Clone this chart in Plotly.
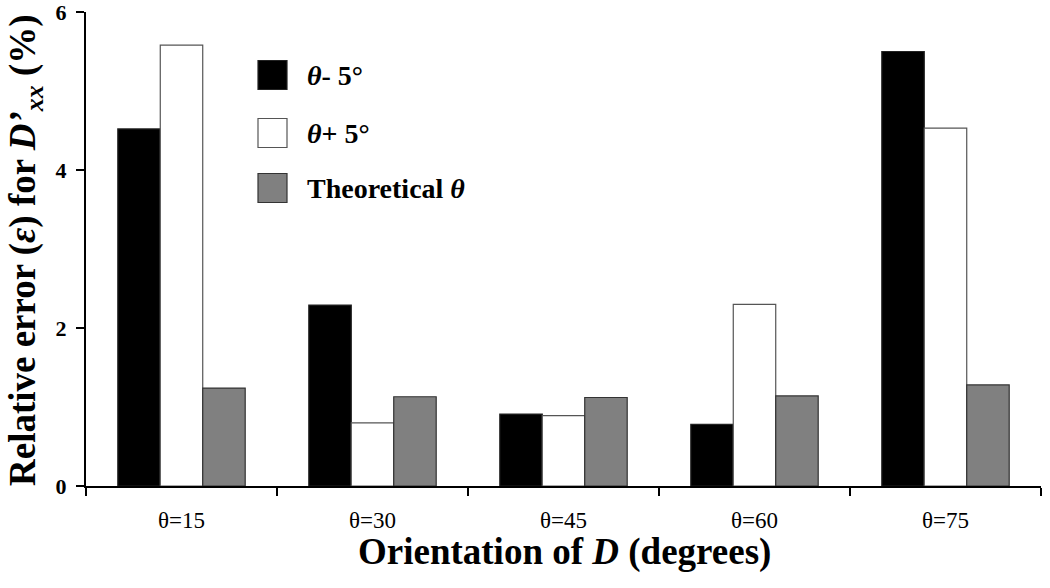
import plotly.graph_objects as go

categories = ['θ=15', 'θ=30', 'θ=45', 'θ=60', 'θ=75']
minus_5 = [4.52, 2.29, 0.91, 0.78, 5.50]
plus_5 = [5.58, 0.80, 0.89, 2.30, 4.53]
theoretical = [1.24, 1.13, 1.12, 1.14, 1.28]
series_names = ['<i>θ</i>- 5°', '<i>θ</i>+ 5°', 'Theoretical <i>θ</i>']
y_ticks = [0, 2, 4, 6]

W, H = 1050, 588
L, R, T, B = 86, 9, 12, 102
FONT = 'Liberation Serif'
fills = ['#000000', '#ffffff', '#808080']
edges = ['#222222', '#555555', '#333333']


def px_x(p):
    # screen pixel -> paper fraction
    return (p - L) / (W - L - R)


def px_y(p):
    return (H - B - p) / (H - T - B)


fig = go.Figure()
for name, vals, fc, ec in zip(series_names, [minus_5, plus_5, theoretical], fills, edges):
    fig.add_trace(go.Bar(x=categories, y=vals, name=name, showlegend=False,
                         marker=dict(color=fc, line=dict(color=ec, width=1.2))))

# hand-made legend, the squares are much larger than plotly's legend symbols
row_centers = [75, 133, 188]
for name, fc, ec, cy in zip(series_names, fills, edges, row_centers):
    fig.add_shape(type='rect', xref='paper', yref='paper',
                  x0=px_x(258), x1=px_x(287), y0=px_y(cy + 14.5), y1=px_y(cy - 14.5),
                  fillcolor=fc, line=dict(color=ec, width=1.2))
    fig.add_annotation(text=name, xref='paper', yref='paper', x=px_x(305), y=px_y(cy),
                       xanchor='left', yanchor='middle', showarrow=False,
                       font=dict(family=FONT, size=28, color='black', weight='bold'))

fig.add_annotation(text='Orientation of <i>D</i> (degrees)', xref='paper', yref='paper',
                   x=px_x(564), y=px_y(552), xanchor='center', yanchor='middle', showarrow=False,
                   font=dict(family=FONT, size=37, color='black', weight='bold'))
fig.add_annotation(text='Relative error (<i>ε</i>) for <i>D’</i><sub><i>xx</i></sub> (%)',
                   xref='paper', yref='paper', x=px_x(25), y=px_y(250), textangle=-90,
                   xanchor='center', yanchor='middle', showarrow=False,
                   font=dict(family=FONT, size=37, color='black', weight='bold'))

fig.update_layout(
    width=W, height=H,
    margin=dict(l=L, r=R, t=T, b=B, autoexpand=False),
    paper_bgcolor='white', plot_bgcolor='white',
    barmode='group', bargap=0.333, bargroupgap=0,
    font=dict(family=FONT, color='black'),
)
fig.update_xaxes(showline=True, linecolor='black', linewidth=2, ticks='outside',
                 tickson='boundaries', ticklen=8, tickwidth=2, tickcolor='black',
                 showgrid=False, ticklabelstandoff=12, automargin=False,
                 tickfont=dict(family=FONT, size=23, color='black'))
fig.update_yaxes(range=[0, 6], tickvals=y_ticks, showline=True, linecolor='black', linewidth=2,
                 ticks='outside', ticklen=8, tickwidth=2, tickcolor='black', showgrid=False,
                 zeroline=False, ticklabelstandoff=5, automargin=False,
                 ticklabeloverflow='allow',
                 tickfont=dict(family=FONT, size=22, color='black', weight='bold'))

# drop the default body margin so the figure sits at the page corner
fig.write_html('out.html', config={'displayModeBar': False},
               post_script="document.body.style.margin='0';")
